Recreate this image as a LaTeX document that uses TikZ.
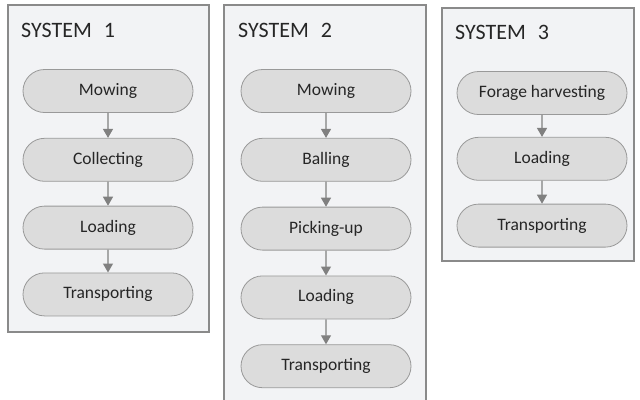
\documentclass[tikz,border=0pt]{standalone}
\usepackage{fontspec}
\setmainfont{Carlito}
\usetikzlibrary{positioning,shapes.misc,arrows.meta}

\definecolor{panelfill}{HTML}{F2F3F5}
\definecolor{paneledge}{HTML}{8A8A8A}
\definecolor{stagefill}{HTML}{DCDCDC}
\definecolor{stageedge}{HTML}{999999}
\definecolor{flowgray}{HTML}{808080}
\definecolor{inktext}{HTML}{262626}

\tikzset{
  panel/.style={draw=paneledge,fill=panelfill,line width=1.2bp},
  title/.style={anchor=base west,inner sep=0pt,text=inktext,font=\fontsize{22bp}{24bp}\selectfont},
  stage/.style={rounded rectangle,draw=stageedge,fill=stagefill,line width=0.8bp,
    minimum width=170bp,minimum height=43bp,inner sep=0pt,text=inktext,
    font=\fontsize{17.5bp}{20bp}\selectfont},
  flow/.style={draw=flowgray,line width=1.2bp,-{Triangle[width=10bp,length=9bp]}}
}

\begin{document}
\begin{tikzpicture}[x=1bp,y=-1bp]

\useasboundingbox (0,0) rectangle (640,399);
\clip (0,0) rectangle (640,399);

%% the three panels
\draw [panel] (8,5) rectangle (209,332);
\draw [panel] (224,5) rectangle (426,410);
\draw [panel] (442,8) rectangle (634,261);

%% panel titles
\node [title] (titleA) at (21,37) {SYSTEM\hspace{12bp}1};
\node [title] (titleB) at (238,37) {SYSTEM\hspace{12bp}2};
\node [title] (titleC) at (455,39) {SYSTEM\hspace{12bp}3};

% system 1
\node [stage] (mowA) at (108,91) {Mowing};
\node [stage,below=25bp of mowA] (colA) {Collecting};
\node [stage,below=24bp of colA] (loadA) {Loading};
\node [stage,below=23bp of loadA] (transA) {Transporting};

\draw [flow] (mowA) -- (colA);
\draw [flow] (colA) -- (loadA);
\draw [flow] (loadA) -- (transA);

% system 2
\node [stage] (mowB) at (326,91) {Mowing};
\node [stage,below=25bp of mowB] (ballB) {Balling};
\node [stage,below=25bp of ballB] (pickB) {Picking-up};
\node [stage,below=25bp of pickB] (loadB) {Loading};
\node [stage,below=25bp of loadB] (transB) {Transporting};

\draw [flow] (mowB) -- (ballB);
\draw [flow] (ballB) -- (pickB);
\draw [flow] (pickB) -- (loadB);
\draw [flow] (loadB) -- (transB);

% system 3
\node [stage] (forC) at (542,93) {Forage harvesting};
\node [stage,below=22bp of forC] (loadC) {Loading};
\node [stage,below=23bp of loadC] (transC) {Transporting};

\draw [flow] (forC) -- (loadC);
\draw [flow] (loadC) -- (transC);

\end{tikzpicture}
\end{document}
